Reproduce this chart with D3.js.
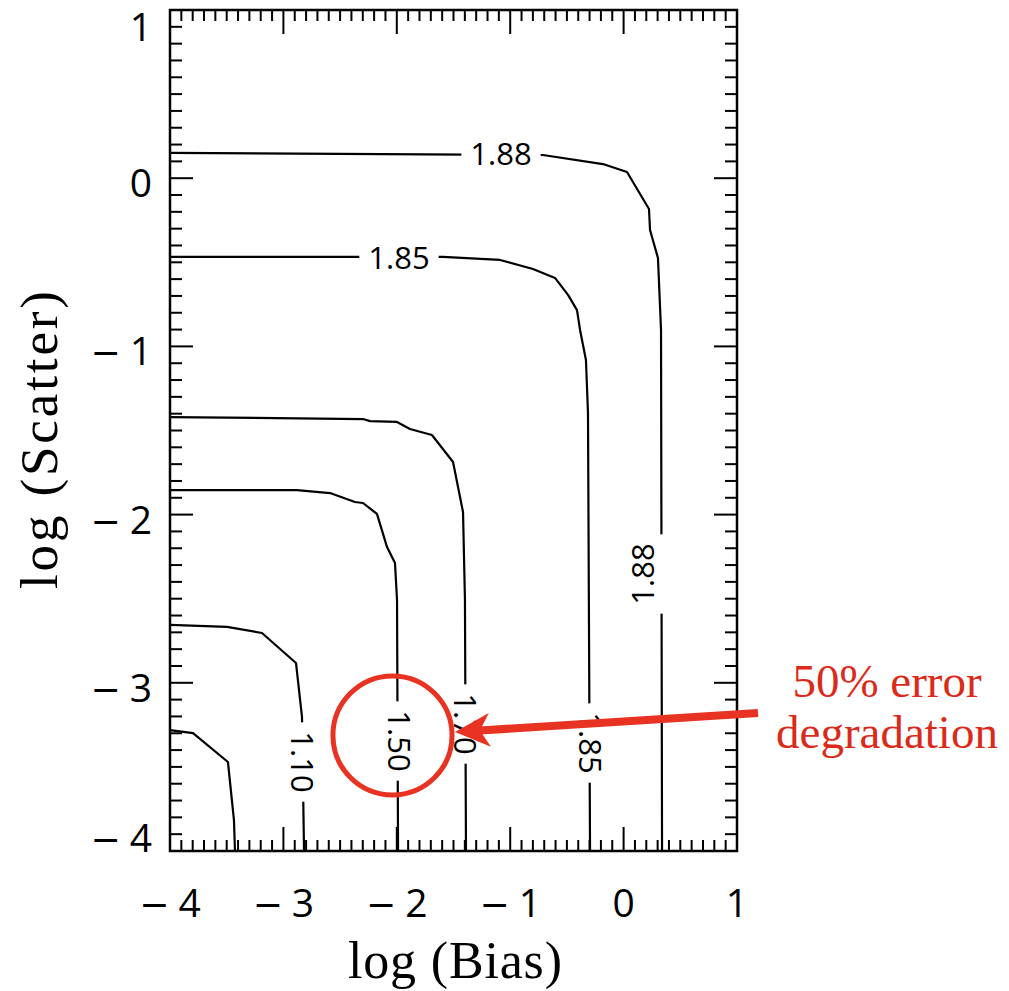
<!DOCTYPE html>
<html><head><meta charset="utf-8">
<script src="https://cdn.jsdelivr.net/npm/d3@7"></script>
<style>body{margin:0;background:#fff} svg{display:block}</style>
</head><body><svg id="c" width="1009" height="991"></svg>
<script>
// ---------- data ----------
const xDomain = [-4, 1];
const yDomain = [-4, 1];
const xMajorTicks = [-4, -3, -2, -1, 0, 1];
const yMajorTicks = [-4, -3, -2, -1, 0, 1];
const xTitle = "log (Bias)";
const yTitle = "log (Scatter)";

// contour polylines [log(Bias), log(Scatter)]
const contourLow = [[-4,-3.281],[-3.797,-3.299],[-3.489,-3.471],[-3.436,-3.816],[-3.427,-4]];
const contour110 = [[-4,-2.656],[-3.497,-2.668],[-3.189,-2.704],[-2.889,-2.882],[-2.836,-3.203],[-2.818,-4]];
const contour150 = [[-4,-1.854],[-2.880,-1.854],[-2.589,-1.872],[-2.369,-1.925],[-2.298,-1.931],[-2.175,-1.996],[-2.086,-2.193],[-2.016,-2.288],[-1.998,-2.508],[-1.989,-4]];
const contour170 = [[-4,-1.420],[-2.298,-1.432],[-2.236,-1.444],[-1.998,-1.449],[-1.884,-1.491],[-1.690,-1.527],[-1.504,-1.687],[-1.416,-1.985],[-1.399,-2.508],[-1.390,-4]];
const contour185 = [[-4,-0.468],[-1.593,-0.468],[-1.090,-0.486],[-0.799,-0.540],[-0.605,-0.593],[-0.490,-0.694],[-0.411,-0.784],[-0.384,-0.902],[-0.332,-1.081],[-0.314,-1.396],[-0.296,-4]];
const contour188 = [[-4,0.150],[-0.711,0.138],[-0.182,0.084],[0.030,0.037],[0.224,-0.183],[0.233,-0.308],[0.303,-0.474],[0.330,-0.902],[0.339,-4]];

// contour labels: text, position, rotation
const labelTexts  = ["1.88", "1.85", "1.88", "1.85", "1.70", "1.50", "1.10"];
const labelX      = [-1.081, -1.981, 0.162, -0.287, -1.390, -1.976, -2.823];
const labelY      = [0.150, -0.468, -2.353, -3.358, -3.245, -3.346, -3.471];
const labelAngle  = [0, 0, -90, 90, 90, 90, 90];
const labelGapX   = [-1.081, -1.981, 0.339, -0.296, -1.390, -1.989, -2.818]; // where the line is broken

// annotation
const noteLines = ["50% error", "degradation"];
const circleCenter = [-2.038, -3.313];
const circleRadiusX = 0.525;
const arrowFrom = [1.185, -3.180];
const arrowTo = [-1.487, -3.293];

// ---------- layout ----------
const M = {left: 170, top: 10, right: 737, bottom: 851};
const svg = d3.select("#c");
const x = d3.scaleLinear().domain(xDomain).range([M.left, M.right]);
const y = d3.scaleLinear().domain(yDomain).range([M.bottom, M.top]);
const tickFont = "'Open Sans', 'DejaVu Sans', sans-serif";
const serif = "'Liberation Serif', 'DejaVu Serif', serif";
const red = "#e83323";

// contour lines
const line = d3.line().x(d => x(d[0])).y(d => y(d[1]));
const contours = [contourLow, contour110, contour150, contour170, contour185, contour188];
svg.append("g").selectAll("path").data(contours).join("path")
  .attr("d", line).attr("fill", "none").attr("stroke", "#000")
  .attr("stroke-width", 2.2).attr("stroke-linejoin", "round");

// labels with gaps
const lg = svg.append("g");
labelTexts.forEach((t, i) => {
  const g = lg.append("g");
  const cx = x(labelX[i]), cy = y(labelY[i]);
  const gx = x(labelGapX[i]);
  const txt = g.append("text").text(t)
    .attr("font-family", tickFont).attr("font-size", 31)
    .attr("text-anchor", "middle").attr("dominant-baseline", "central")
    .attr("transform", `translate(${cx},${cy}) rotate(${labelAngle[i]})`);
  const len = txt.node().getComputedTextLength();
  const pad = 9;
  let rx, ry, rw, rh;
  if (labelAngle[i] === 0) { rx = cx - len/2 - pad; ry = cy - 8; rw = len + 2*pad; rh = 16; }
  else { rx = gx - 8; ry = cy - len/2 - pad; rw = 16; rh = len + 2*pad; }
  g.insert("rect", "text").attr("x", rx).attr("y", ry).attr("width", rw).attr("height", rh).attr("fill", "#fff");
});

// frame
svg.append("rect").attr("x", M.left).attr("y", M.top)
  .attr("width", M.right - M.left).attr("height", M.bottom - M.top)
  .attr("fill", "none").attr("stroke", "#000").attr("stroke-width", 2.5);

// ticks
const tg = svg.append("g").attr("stroke", "#000").attr("stroke-width", 2);
const minorX = d3.range(0, 51).map(i => xDomain[0] + i * 0.1);
const minorY = d3.range(0, 51).map(i => yDomain[0] + i * 0.1);
const isMajor = v => Math.abs(v - Math.round(v)) < 1e-6;
minorX.forEach(v => {
  const L = isMajor(v) ? 24 : 11, px = x(v);
  tg.append("line").attr("x1", px).attr("x2", px).attr("y1", M.bottom).attr("y2", M.bottom - L);
  tg.append("line").attr("x1", px).attr("x2", px).attr("y1", M.top).attr("y2", M.top + L);
});
minorY.forEach(v => {
  const L = isMajor(v) ? 23 : 12, py = y(v);
  tg.append("line").attr("y1", py).attr("y2", py).attr("x1", M.left).attr("x2", M.left + L);
  tg.append("line").attr("y1", py).attr("y2", py).attr("x1", M.right).attr("x2", M.right - L);
});

// tick label: wide minus (DejaVu Sans) + digit
function tickLabel(sel) {
  sel.each(function(d) {
    const t = d3.select(this);
    if (d < 0) {
      t.append("tspan").attr("font-family", "'DejaVu Sans', sans-serif").attr("font-size", 36).text("\u2212");
      t.append("tspan").attr("dx", 9).text(Math.abs(d));
    } else {
      t.append("tspan").text(d);
    }
  });
}
// x tick labels
svg.append("g").selectAll("text").data(xMajorTicks).join("text")
  .attr("x", d => x(d)).attr("y", 917)
  .attr("text-anchor", "middle").attr("font-family", tickFont).attr("font-size", 39)
  .call(tickLabel);
// y tick labels
svg.append("g").selectAll("text").data(yMajorTicks).join("text")
  .attr("x", 152)
  .attr("y", d => Math.min(Math.max(y(d) + 19, 41), 852))
  .attr("text-anchor", "end").attr("font-family", tickFont).attr("font-size", 39)
  .call(tickLabel);

// axis titles
svg.append("text").text(xTitle).attr("x", 455).attr("y", 978)
  .attr("text-anchor", "middle").attr("font-family", serif).attr("font-size", 52)
  .attr("textLength", 214).attr("lengthAdjust", "spacing");
svg.append("text").text(yTitle)
  .attr("transform", "translate(57,440) rotate(-90)")
  .attr("text-anchor", "middle").attr("font-family", serif).attr("font-size", 53)
  .attr("textLength", 298).attr("lengthAdjust", "spacing");

// annotation circle
svg.append("circle").attr("cx", x(circleCenter[0])).attr("cy", y(circleCenter[1]))
  .attr("r", x(circleCenter[0] + circleRadiusX) - x(circleCenter[0]))
  .attr("fill", "none").attr("stroke", red).attr("stroke-width", 5);

// arrow
const ax0 = x(arrowFrom[0]), ay0 = y(arrowFrom[1]);
const ax1 = x(arrowTo[0]), ay1 = y(arrowTo[1]);
const dx = ax0 - ax1, dy = ay0 - ay1, dl = Math.hypot(dx, dy);
const ux = dx / dl, uy = dy / dl, nx = -uy, ny = ux;
const HL = 35, HW = 17, NOTCH = 10;
const nxp = ax1 + ux * (HL - NOTCH), nyp = ay1 + uy * (HL - NOTCH);
svg.append("line").attr("x1", ax0).attr("y1", ay0).attr("x2", nxp).attr("y2", nyp)
  .attr("stroke", red).attr("stroke-width", 8);
svg.append("path").attr("fill", red).attr("d",
  `M${ax1},${ay1} L${ax1 + ux*HL + nx*HW},${ay1 + uy*HL + ny*HW} L${nxp},${nyp} L${ax1 + ux*HL - nx*HW},${ay1 + uy*HL - ny*HW} Z`);

// annotation text
svg.append("g").selectAll("text").data(noteLines).join("text")
  .text(d => d).attr("x", 887).attr("y", (d, i) => 697 + i * 51)
  .attr("text-anchor", "middle").attr("font-family", serif).attr("font-size", 47)
  .attr("fill", "#dc2a1a");
</script>
</body></html>
